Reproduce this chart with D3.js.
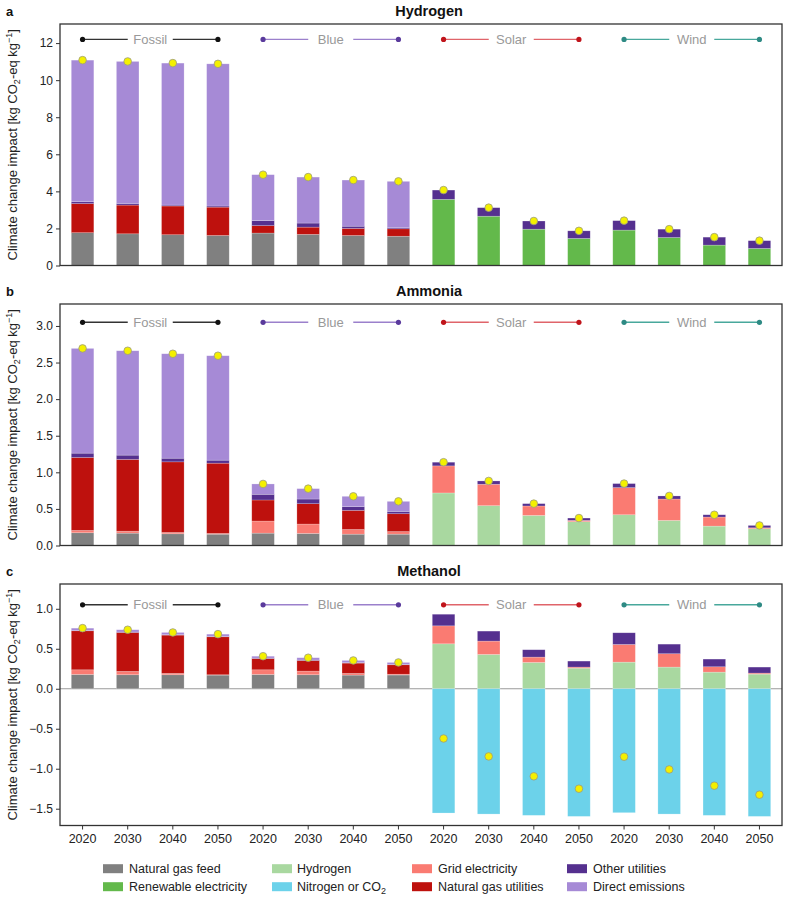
<!DOCTYPE html>
<html>
<head>
<meta charset="utf-8">
<script src="https://cdn.jsdelivr.net/npm/d3@7"></script>
<style>
  html, body { margin: 0; padding: 0; background: #fff; }
  svg { display: block; font-family: "Liberation Sans", Arial, sans-serif; }
</style>
</head>
<body>
<svg id="chart" width="787" height="897"></svg>
<script>
// ---------- DATA ----------
const groups = ["Fossil", "Blue", "Solar", "Wind"];
const years = ["2020", "2030", "2040", "2050"];

const components = ["Natural gas feed", "Renewable electricity", "Hydrogen", "Nitrogen or CO2",
                    "Grid electricity", "Natural gas utilities", "Other utilities", "Direct emissions"];
const componentColors = ["#808080", "#63b94b", "#a9d8a0", "#6cd2ea",
                         "#fa7b72", "#be110d", "#55308f", "#a68ad6"];

// Hydrogen panel (kg CO2-eq / kg), 16 bars: Fossil x4, Blue x4, Solar x4, Wind x4
const h2GasFeed   = [1.77, 1.71, 1.66, 1.62, 1.75, 1.68, 1.62, 1.58, 0, 0, 0, 0, 0, 0, 0, 0];
const h2Renewable = [0, 0, 0, 0, 0, 0, 0, 0, 3.57, 2.66, 1.96, 1.46, 1.91, 1.51, 1.10, 0.92];
const h2Hydrogen  = [0, 0, 0, 0, 0, 0, 0, 0, 0, 0, 0, 0, 0, 0, 0, 0];
const h2Nitrogen  = [0, 0, 0, 0, 0, 0, 0, 0, 0, 0, 0, 0, 0, 0, 0, 0];
const h2Grid      = [0, 0, 0, 0, 0, 0, 0, 0, 0, 0, 0, 0, 0, 0, 0, 0];
const h2NgUtil    = [1.57, 1.55, 1.55, 1.53, 0.40, 0.39, 0.38, 0.40, 0, 0, 0, 0, 0, 0, 0, 0];
const h2Other     = [0.10, 0.09, 0.05, 0.06, 0.27, 0.22, 0.12, 0.07, 0.50, 0.46, 0.44, 0.41, 0.51, 0.45, 0.43, 0.42];
const h2Direct    = [7.64, 7.66, 7.66, 7.67, 2.48, 2.48, 2.49, 2.49, 0, 0, 0, 0, 0, 0, 0, 0];

// Ammonia panel
const nhGasFeed   = [0.174, 0.169, 0.160, 0.155, 0.169, 0.165, 0.155, 0.155, 0, 0, 0, 0, 0, 0, 0, 0];
const nhRenewable = [0, 0, 0, 0, 0, 0, 0, 0, 0, 0, 0, 0, 0, 0, 0, 0];
const nhHydrogen  = [0, 0, 0, 0, 0, 0, 0, 0, 0.718, 0.544, 0.411, 0.325, 0.420, 0.343, 0.265, 0.229];
const nhNitrogen  = [0, 0, 0, 0, 0, 0, 0, 0, 0, 0, 0, 0, 0, 0, 0, 0];
const nhGrid      = [0.032, 0.027, 0.018, 0.010, 0.165, 0.128, 0.064, 0.035, 0.370, 0.293, 0.129, 0.018, 0.371, 0.292, 0.124, 0.013];
const nhNgUtil    = [0.997, 0.980, 0.965, 0.960, 0.288, 0.278, 0.261, 0.244, 0, 0, 0, 0, 0, 0, 0, 0];
const nhOther     = [0.059, 0.059, 0.050, 0.041, 0.078, 0.064, 0.050, 0.032, 0.050, 0.045, 0.032, 0.032, 0.055, 0.042, 0.031, 0.032];
const nhDirect    = [1.431, 1.426, 1.427, 1.427, 0.141, 0.142, 0.142, 0.137, 0, 0, 0, 0, 0, 0, 0, 0];

// Methanol panel
const meGasFeed   = [0.179, 0.175, 0.175, 0.171, 0.179, 0.175, 0.171, 0.172, 0, 0, 0, 0, 0, 0, 0, 0];
const meRenewable = [0, 0, 0, 0, 0, 0, 0, 0, 0, 0, 0, 0, 0, 0, 0, 0];
const meHydrogen  = [0, 0, 0, 0, 0, 0, 0, 0, 0.562, 0.429, 0.329, 0.258, 0.333, 0.271, 0.208, 0.183];
const meNitrogen  = [0, 0, 0, 0, 0, 0, 0, 0, -1.554, -1.567, -1.583, -1.596, -1.550, -1.567, -1.583, -1.596];
const meGrid      = [0.058, 0.042, 0.017, 0.004, 0.058, 0.046, 0.021, 0.010, 0.225, 0.167, 0.067, 0.013, 0.221, 0.167, 0.067, 0.013];
const meNgUtil    = [0.488, 0.487, 0.479, 0.475, 0.141, 0.133, 0.129, 0.118, 0, 0, 0, 0, 0, 0, 0, 0];
const meOther     = [0.005, 0.005, 0.005, 0.005, 0.005, 0.005, 0.005, 0.005, 0.145, 0.125, 0.092, 0.075, 0.146, 0.120, 0.096, 0.075];
const meDirect    = [0.028, 0.029, 0.028, 0.028, 0.024, 0.029, 0.028, 0.024, 0, 0, 0, 0, 0, 0, 0, 0];

const panelTitles = ["Hydrogen", "Ammonia", "Methanol"];
const panelLetters = ["a", "b", "c"];
const yDomains = [[0, 13.03], [0, 3.3], [-1.71, 1.31]];
const yTicks = [[0, 2, 4, 6, 8, 10, 12], [0, 0.5, 1.0, 1.5, 2.0, 2.5, 3.0], [-1.5, -1.0, -0.5, 0, 0.5, 1.0]];
const yTickFormats = ["d", ".1f", ".1f"];
const routeLegendY = [12.2, 3.05, 1.05];

const routeDotColors  = ["#111111", "#5a3a9c", "#c0141b", "#2e8a84"];
const routeLineColors = ["#333333", "#9b80cc", "#e0646a", "#48a89c"];

const panelSeries = [
  [h2GasFeed, h2Renewable, h2Hydrogen, h2Nitrogen, h2Grid, h2NgUtil, h2Other, h2Direct],
  [nhGasFeed, nhRenewable, nhHydrogen, nhNitrogen, nhGrid, nhNgUtil, nhOther, nhDirect],
  [meGasFeed, meRenewable, meHydrogen, meNitrogen, meGrid, meNgUtil, meOther, meDirect]
];

// ---------- LAYOUT ----------
const svg = d3.select("#chart");
const left = 60, right = 782;
const panelTops = [24, 304, 584];
const panelH = 241.5;
const font = "'Liberation Sans', Arial, sans-serif";

const labels = [];
groups.forEach(g => years.forEach(y => labels.push(g + " " + y)));

const x = d3.scaleBand().domain(d3.range(16)).range([left, right]).paddingInner(0.5).paddingOuter(0.25);

panelSeries.forEach((series, p) => {
  const top = panelTops[p], bottom = top + panelH;
  const y = d3.scaleLinear().domain(yDomains[p]).range([bottom, top]);
  const g = svg.append("g");

  // build rows
  const rows = d3.range(16).map(i => {
    const r = { idx: i };
    components.forEach((c, k) => r[c] = series[k][i]);
    return r;
  });
  const stack = d3.stack().keys(components).offset(d3.stackOffsetDiverging);
  const layers = stack(rows);

  // zero line (methanol)
  if (yDomains[p][0] < 0) {
    g.append("line").attr("x1", left).attr("x2", right)
      .attr("y1", y(0)).attr("y2", y(0))
      .attr("stroke", "#9a9a9a").attr("stroke-width", 1);
  }

  layers.forEach((layer, k) => {
    g.append("g").attr("fill", componentColors[k])
      .selectAll("rect").data(layer.filter(d => Math.abs(d[1] - d[0]) > 1e-9))
      .join("rect")
      .attr("x", d => x(d.data.idx))
      .attr("width", x.bandwidth())
      .attr("y", d => y(Math.max(d[0], d[1])))
      .attr("height", d => Math.abs(y(d[0]) - y(d[1])))
      .attr("stroke", "rgba(255,255,255,0.35)")
      .attr("stroke-width", 0.6);
  });

  // net total dots
  const totals = d3.range(16).map(i => ({ idx: i, v: d3.sum(series, s => s[i]) }));
  g.append("g").selectAll("circle").data(totals).join("circle")
    .attr("cx", d => x(d.idx) + x.bandwidth() / 2)
    .attr("cy", d => y(d.v))
    .attr("r", 3.8)
    .attr("fill", "#f4f000")
    .attr("stroke", "#9a9a80")
    .attr("stroke-width", 0.8);

  // route legend lines
  groups.forEach((grp, gi) => {
    const x0 = x(gi * 4) + x.bandwidth() / 2;
    const x1 = x(gi * 4 + 3) + x.bandwidth() / 2;
    const cx = (x0 + x1) / 2;
    const ly = y(routeLegendY[p]);
    const gap = 22.5;
    g.append("line").attr("x1", x0).attr("x2", cx - gap).attr("y1", ly).attr("y2", ly)
      .attr("stroke", routeLineColors[gi]).attr("stroke-width", 1.4);
    g.append("line").attr("x1", cx + gap).attr("x2", x1).attr("y1", ly).attr("y2", ly)
      .attr("stroke", routeLineColors[gi]).attr("stroke-width", 1.4);
    [x0, x1].forEach(xx => g.append("circle").attr("cx", xx).attr("cy", ly).attr("r", 2.6)
      .attr("fill", routeDotColors[gi]));
    g.append("text").attr("x", cx).attr("y", ly).attr("dy", "0.35em")
      .attr("text-anchor", "middle").attr("fill", "#999").attr("font-size", 13)
      .text(grp);
  });

  // axes
  const yAxis = d3.axisLeft(y).tickValues(yTicks[p]).tickFormat(d3.format(yTickFormats[p])).tickSize(4).tickPadding(3);
  const ya = g.append("g").attr("transform", `translate(${left},0)`).call(yAxis);
  ya.select(".domain").remove();
  ya.selectAll("text").attr("font-size", 12).attr("fill", "#222").attr("font-family", font);
  ya.selectAll("line").attr("stroke", "#333");

  if (p === 2) {
    const xAxis = d3.axisBottom(x).tickFormat(i => years[i % 4]).tickSize(4).tickPadding(5);
    const xa = g.append("g").attr("transform", `translate(0,${bottom})`).call(xAxis);
    xa.select(".domain").remove();
    xa.selectAll("text").attr("font-size", 12.5).attr("fill", "#222").attr("font-family", font);
    xa.selectAll("line").attr("stroke", "#333");
  }

  // frame
  g.append("rect").attr("x", left).attr("y", top).attr("width", right - left).attr("height", panelH)
    .attr("fill", "none").attr("stroke", "#333").attr("stroke-width", 1.3);

  // title & letter
  g.append("text").attr("x", 429).attr("y", top - 8).attr("text-anchor", "middle")
    .attr("font-weight", "bold").attr("font-size", 14.5).attr("fill", "#111").text(panelTitles[p]);
  g.append("text").attr("x", 6).attr("y", top - 8)
    .attr("font-weight", "bold").attr("font-size", 13).attr("fill", "#111").text(panelLetters[p]);

  // y label
  const yl = g.append("text")
    .attr("transform", `translate(17,${(top + bottom) / 2}) rotate(-90)`)
    .attr("text-anchor", "middle").attr("font-size", 13).attr("fill", "#222");
  yl.append("tspan").text("Climate change impact [kg CO");
  yl.append("tspan").attr("font-size", 9).attr("dy", 3).text("2");
  yl.append("tspan").attr("dy", -3).text("-eq kg");
  yl.append("tspan").attr("font-size", 9).attr("dy", -5).text("\u22121");
  yl.append("tspan").attr("dy", 5).text("]");
});

// ---------- COMPONENT LEGEND ----------
const legendOrder = [0, 1, 2, 3, 4, 5, 6, 7]; // column-major: col i has rows 2i, 2i+1
const colSwatchX = [103, 272, 412, 567];
const colTextX = [129, 297, 438, 593];
const rowY = [868.7, 886.7];
const lg = svg.append("g");
legendOrder.forEach(k => {
  const col = Math.floor(k / 2), row = k % 2;
  lg.append("rect").attr("x", colSwatchX[col]).attr("y", rowY[row] - 4.5)
    .attr("width", 20).attr("height", 9).attr("fill", componentColors[k]);
  const t = lg.append("text").attr("x", colTextX[col]).attr("y", rowY[row]).attr("dy", "0.35em")
    .attr("font-size", 12.5).attr("fill", "#222");
  if (components[k] === "Nitrogen or CO2") {
    t.append("tspan").text("Nitrogen or CO");
    t.append("tspan").attr("font-size", 9).attr("dy", 3).text("2");
  } else {
    t.text(components[k]);
  }
});
</script>
</body>
</html>
